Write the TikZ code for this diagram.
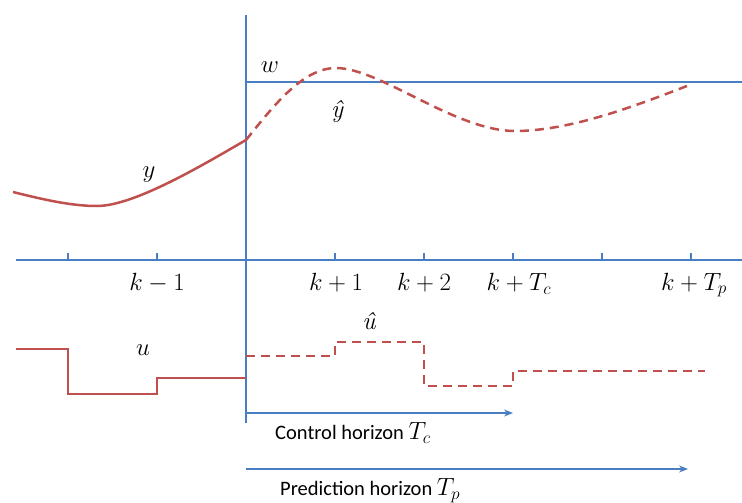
\documentclass[tikz,border=0pt]{standalone}
\usepackage{fontspec}
\newfontfamily\labfont{Carlito}
\usetikzlibrary{arrows.meta}
\definecolor{axblue}{HTML}{4A7EC2}
\definecolor{curvered}{HTML}{C0504D}
\begin{document}
\begin{tikzpicture}[x=1pt,y=-1pt,
  axis/.style={draw=axblue,line width=1.1pt},
  sig/.style={draw=curvered,line width=2.5pt},
  pred/.style={draw=curvered,line width=2.5pt,dash pattern=on 9pt off 6pt},
  horiz/.style={draw=axblue,line width=1.1pt,-{Stealth[length=9pt,width=7pt]}},
  mlab/.style={inner sep=0pt,font=\fontsize{25}{29}\selectfont},
  tlab/.style={inner sep=0pt,font=\labfont\fontsize{20.5}{24}\selectfont}]
\useasboundingbox (0,0) rectangle (742,503);
% coordinates
\coordinate (vtop) at (246,15);
\coordinate (vbot) at (246,423);
\coordinate (axl) at (16,260);
\coordinate (axr) at (742,260);
\coordinate (wl) at (246,82);
\coordinate (wr) at (742,82);
% axes
\draw[axis] (vtop) -- (vbot);
\draw[axis] (axl) -- (axr);
\draw[axis] (wl) -- (wr);
\foreach \x in {68,157,335,424,513,602,691}
  \draw[axis] (\x,253) -- (\x,261);
% measured output y
\coordinate (y0) at (13,192);
\coordinate (ymin) at (97,206);
\coordinate (yk) at (246,140);
\draw[sig] (y0) .. controls (45,200) and (72,206) .. (ymin)
  .. controls (135,206) and (206,163) .. (yk);
% predicted output
\coordinate (ypk) at (336,68);
\coordinate (ypm) at (515,131);
\coordinate (ype) at (687,86);
\draw[pred] (yk) .. controls (272,108) and (302,68) .. (ypk)
  .. controls (380,68) and (455,131) .. (ypm)
  .. controls (570,131) and (635,106) .. (ype);
% past input u
\coordinate (u0) at (16,349);
\coordinate (u1) at (68,349);
\coordinate (u2) at (68,394);
\coordinate (u3) at (157,394);
\coordinate (u4) at (157,378);
\coordinate (u5) at (246,378);
\draw[sig] (u0) -- (u1) -- (u2) -- (u3) -- (u4) -- (u5);
% predicted input
\coordinate (p0) at (246,356);
\coordinate (p1) at (335,356);
\coordinate (p2) at (335,342);
\coordinate (p3) at (424,342);
\coordinate (p4) at (424,386);
\coordinate (p5) at (513,386);
\coordinate (p6) at (513,371);
\coordinate (p7) at (705,371);
\draw[pred] (p0) -- (p1) -- (p2) -- (p3) -- (p4) -- (p5) -- (p6) -- (p7);
% horizons
\coordinate (ch0) at (246,413);
\coordinate (ch1) at (513,413);
\coordinate (ph0) at (246,469);
\coordinate (ph1) at (688,469);
\draw[horiz] (ch0) -- (ch1);
\draw[horiz] (ph0) -- (ph1);
% labels
\node[mlab] (lw) at (270,67) {$w$};
\node[mlab] (lyh) at (337,111) {\itshape ŷ};
\node[mlab] (ly) at (149,175) {$y$};
\node[mlab] (lu) at (143,350) {$u$};
\node[mlab] (luh) at (369,321) {\itshape û};
\node[mlab] (km1) at (157,283) {$k-1$};
\node[mlab] (kp1) at (336,283) {$k+1$};
\node[mlab] (kp2) at (424,283) {$k+2$};
\node[mlab] (ktc) at (519,284) {$k+T_c$};
\node[mlab] (ktp) at (694,285) {$k+T_p$};
\node[tlab,anchor=west] (lch) at (275,433) {Control horizon \fontsize{24}{28}\selectfont$T_c$};
\node[tlab,anchor=west] (lph) at (280,491) {Prediction horizon \fontsize{24}{28}\selectfont$T_p$};
\end{tikzpicture}
\end{document}
